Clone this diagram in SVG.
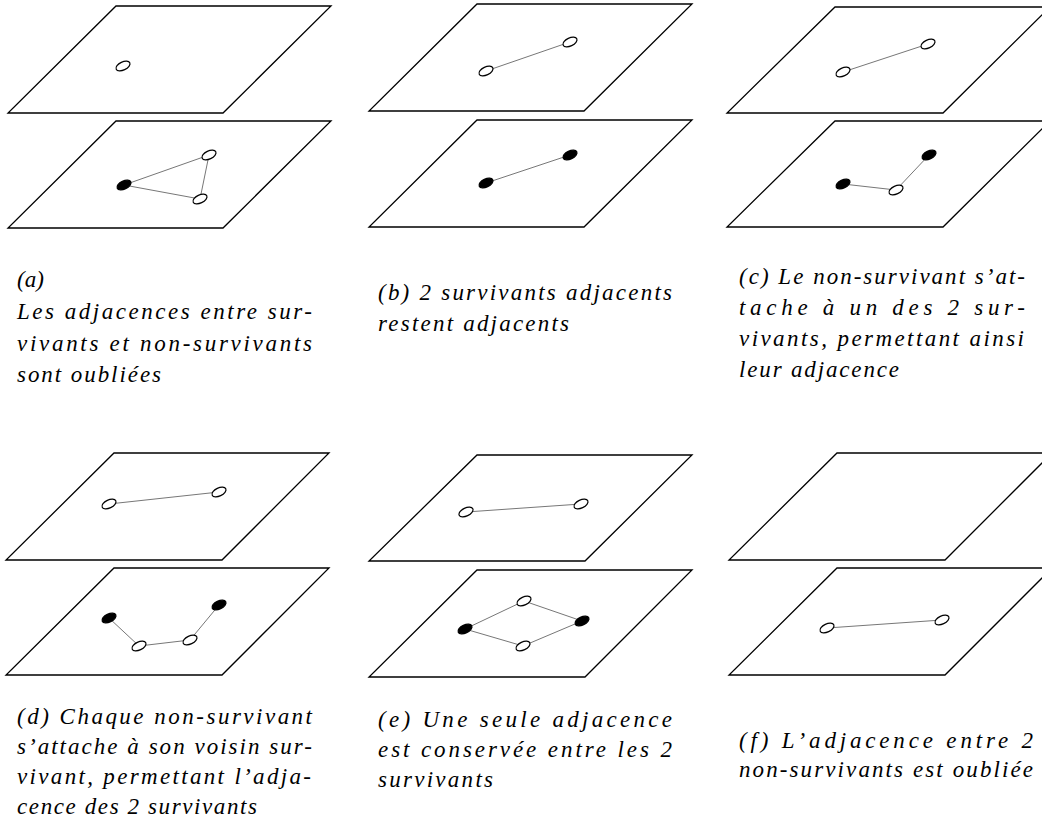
<svg xmlns="http://www.w3.org/2000/svg" width="1042" height="838" viewBox="0 0 1042 838">
<style>
.plane{fill:none;stroke:#000;stroke-width:1.3;stroke-linejoin:miter}
.e{fill:#fff;stroke:#000;stroke-width:1.2}
.f{fill:#000;stroke:#000;stroke-width:1.2}
.edge{stroke:#777;stroke-width:1;fill:none}
text{font-family:"Liberation Serif","Times New Roman",serif;font-style:italic;font-size:23px;fill:#000}
</style>
<rect width="1042" height="838" fill="#fff"/>
<defs>
<ellipse id="nw" class="e" rx="7.5" ry="4" transform="rotate(-25)"/>
<ellipse id="nb" class="f" rx="7.5" ry="4" transform="rotate(-25)"/>
</defs>

<g id="planes">
<polygon class="plane" points="116,6 331,6 223,113 8,113"/>
<polygon class="plane" points="116,121 331,121 223,228 8,228"/>
<polygon class="plane" points="477,4 692,4 584,111 369,111"/>
<polygon class="plane" points="477,120 692,120 584,227 369,227"/>
<polygon class="plane" points="835,7 1050,7 943,113 727,113"/>
<polygon class="plane" points="835,121 1050,121 943,227 727,227"/>
<polygon class="plane" points="114,453 329,453 222,560 6,560"/>
<polygon class="plane" points="114,568 329,568 222,675 6,675"/>
<polygon class="plane" points="477,455 692,455 585,561 369,561"/>
<polygon class="plane" points="477,570 692,570 585,677 369,677"/>
<polygon class="plane" points="837,453 1052,453 945,560 729,560"/>
<polygon class="plane" points="837,568 1052,568 945,675 729,675"/>
</g>

<g id="connectors">
<line class="edge" x1="124" y1="185" x2="209" y2="155"/>
<line class="edge" x1="124" y1="185" x2="200" y2="199"/>
<line class="edge" x1="209" y1="155" x2="200" y2="199"/>
<line class="edge" x1="486" y1="71" x2="570" y2="42"/>
<line class="edge" x1="486" y1="183" x2="570" y2="155"/>
<line class="edge" x1="843" y1="72" x2="928" y2="44"/>
<line class="edge" x1="843" y1="184" x2="896" y2="190"/>
<line class="edge" x1="896" y1="190" x2="929" y2="155"/>
<line class="edge" x1="109" y1="504" x2="219" y2="492"/>
<line class="edge" x1="109" y1="618" x2="139" y2="646"/>
<line class="edge" x1="139" y1="646" x2="190" y2="640"/>
<line class="edge" x1="190" y1="640" x2="219" y2="605"/>
<line class="edge" x1="466" y1="512" x2="581" y2="504"/>
<line class="edge" x1="465" y1="629" x2="524" y2="601"/>
<line class="edge" x1="524" y1="601" x2="582" y2="621"/>
<line class="edge" x1="582" y1="621" x2="523" y2="646"/>
<line class="edge" x1="523" y1="646" x2="465" y2="629"/>
<line class="edge" x1="827" y1="628" x2="942" y2="620"/>
</g>

<g id="panel-a">
<use href="#nw" transform="translate(123,66)"/>
<use href="#nb" transform="translate(124,185)"/>
<use href="#nw" transform="translate(209,155)"/>
<use href="#nw" transform="translate(200,199)"/>
<text x="17" y="287">(a)</text>
<text x="17" y="319" textLength="295" lengthAdjust="spacing">Les adjacences entre sur-</text>
<text x="17" y="351" textLength="295" lengthAdjust="spacing">vivants et non-survivants</text>
<text x="17" y="382" textLength="144" lengthAdjust="spacing">sont oubliées</text>
</g>

<g id="panel-b">
<use href="#nw" transform="translate(486,71)"/>
<use href="#nw" transform="translate(570,42)"/>
<use href="#nb" transform="translate(486,183)"/>
<use href="#nb" transform="translate(570,155)"/>
<text x="378" y="300" textLength="294" lengthAdjust="spacing">(b) 2 survivants adjacents</text>
<text x="378" y="331" textLength="191" lengthAdjust="spacing">restent adjacents</text>
</g>

<g id="panel-c">
<use href="#nw" transform="translate(843,72)"/>
<use href="#nw" transform="translate(928,44)"/>
<use href="#nb" transform="translate(843,184)"/>
<use href="#nw" transform="translate(896,190)"/>
<use href="#nb" transform="translate(929,155)"/>
<text x="739" y="284" textLength="286" lengthAdjust="spacing">(c) Le non-survivant s’at-</text>
<text x="739" y="315" textLength="286" lengthAdjust="spacing">tache à un des 2 sur-</text>
<text x="739" y="346" textLength="285" lengthAdjust="spacing">vivants, permettant ainsi</text>
<text x="739" y="377" textLength="160" lengthAdjust="spacing">leur adjacence</text>
</g>

<g id="panel-d">
<use href="#nw" transform="translate(109,504)"/>
<use href="#nw" transform="translate(219,492)"/>
<use href="#nb" transform="translate(109,618)"/>
<use href="#nw" transform="translate(139,646)"/>
<use href="#nw" transform="translate(190,640)"/>
<use href="#nb" transform="translate(219,605)"/>
<text x="17" y="724" textLength="295" lengthAdjust="spacing">(d) Chaque non-survivant</text>
<text x="17" y="754" textLength="295" lengthAdjust="spacing">s’attache à son voisin sur-</text>
<text x="17" y="784" textLength="294" lengthAdjust="spacing">vivant, permettant l’adja-</text>
<text x="17" y="814" textLength="240" lengthAdjust="spacing">cence des 2 survivants</text>
</g>

<g id="panel-e">
<use href="#nw" transform="translate(466,512)"/>
<use href="#nw" transform="translate(581,504)"/>
<use href="#nb" transform="translate(465,629)"/>
<use href="#nw" transform="translate(524,601)"/>
<use href="#nb" transform="translate(582,621)"/>
<use href="#nw" transform="translate(523,646)"/>
<text x="378" y="727" textLength="294" lengthAdjust="spacing">(e) Une seule adjacence</text>
<text x="378" y="757" textLength="294" lengthAdjust="spacing">est conservée entre les 2</text>
<text x="378" y="787" textLength="115" lengthAdjust="spacing">survivants</text>
</g>

<g id="panel-f">
<use href="#nw" transform="translate(827,628)"/>
<use href="#nw" transform="translate(942,620)"/>
<text x="739" y="748" textLength="294" lengthAdjust="spacing">(f) L’adjacence entre 2</text>
<text x="739" y="777" textLength="294" lengthAdjust="spacing">non-survivants est oubliée</text>
</g>
</svg>
